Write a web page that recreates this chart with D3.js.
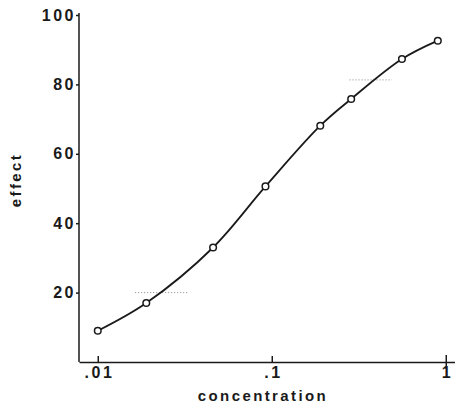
<!DOCTYPE html>
<html>
<head>
<meta charset="utf-8">
<script src="https://cdn.jsdelivr.net/npm/d3@7"></script>
<style>
  body { margin: 0; background: #fff; }
  .axis text { font-family: "Liberation Sans", Arial, sans-serif; font-weight: bold; font-size: 16px; fill: #1a1a1a; letter-spacing: 2.5px; }
  .axis path, .axis line { stroke: #1a1a1a; stroke-width: 1.5px; }
  .axis-title { font-family: "Liberation Sans", Arial, sans-serif; font-weight: bold; font-size: 15px; fill: #1a1a1a; letter-spacing: 2.4px; }
</style>
</head>
<body>
<div id="chart"></div>
<script>
// data
var concentration = [0.01, 0.019, 0.046, 0.092, 0.19, 0.286, 0.56, 0.9];
var effect = [9.0, 17.0, 33.0, 50.6, 68.1, 75.8, 87.3, 92.6];
var xTicks = [0.01, 0.1, 1];
var xTickLabels = [".01", ".1", "1"];
var yTicks = [20, 40, 60, 80, 100];
// faint dotted marks on the scan
var dotLevels = [20, 81.3];
var dotFrom = [0.0164, 0.28];
var dotTo = [0.033, 0.49];

var width = 455, height = 407;
var svg = d3.select("#chart").append("svg")
    .attr("width", width)
    .attr("height", height);

var x = d3.scaleLog()
    .domain([0.0078, 1.13])
    .range([79, 455]);
var y = d3.scaleLinear()
    .domain([0, 100])
    .range([362, 15]);

var data = concentration.map(function(c, i) { return {c: c, e: effect[i]}; });

// x axis
svg.append("g")
    .attr("class", "axis axis--x")
    .attr("transform", "translate(0," + y(0) + ")")
    .call(d3.axisBottom(x)
        .tickValues(xTicks)
        .tickFormat(function(d, i) { return xTickLabels[i]; })
        .tickSizeInner(-6)
        .tickSizeOuter(0)
        .tickPadding(5));

// the "1" tick crosses the axis
svg.select(".axis--x").selectAll(".tick line")
    .attr("y2", function(d) { return d === 1 ? -7 : -6; })
    .attr("y1", function(d) { return d === 1 ? 7 : 0; });
svg.select(".axis--x").selectAll(".tick text")
    .attr("dx", "1.2px");

// y axis
svg.append("g")
    .attr("class", "axis axis--y")
    .attr("transform", "translate(" + x.range()[0] + ",0)")
    .call(d3.axisLeft(y)
        .tickValues(yTicks)
        .tickSizeInner(3)
        .tickSizeOuter(0)
        .tickPadding(2));

svg.select(".axis--y").selectAll(".tick text")
    .attr("dx", "2px");

svg.select(".axis--y .domain")
    .attr("d", "M0," + y(0) + "V" + (y(100) - 2));

// titles
svg.append("text")
    .attr("class", "axis-title")
    .attr("x", 263)
    .attr("y", 401)
    .attr("text-anchor", "middle")
    .text("concentration");

svg.append("text")
    .attr("class", "axis-title")
    .attr("transform", "translate(21,180) rotate(-90)")
    .attr("text-anchor", "middle")
    .text("effect");

// dotted remnants
dotLevels.forEach(function(lv, i) {
  svg.append("line")
      .attr("x1", x(dotFrom[i]))
      .attr("x2", x(dotTo[i]))
      .attr("y1", y(lv))
      .attr("y2", y(lv))
      .attr("stroke", "#8a8a8a")
      .attr("stroke-width", 1)
      .attr("stroke-dasharray", "1,2");
});

// curve
var line = d3.line()
    .x(function(d) { return x(d.c); })
    .y(function(d) { return y(d.e); })
    .curve(d3.curveCatmullRom.alpha(0.5));

svg.append("path")
    .datum(data)
    .attr("fill", "none")
    .attr("stroke", "#1a1a1a")
    .attr("stroke-width", 1.8)
    .attr("d", line);

svg.selectAll(".pt")
    .data(data)
    .enter().append("circle")
    .attr("class", "pt")
    .attr("cx", function(d) { return x(d.c); })
    .attr("cy", function(d) { return y(d.e); })
    .attr("r", 3.3)
    .attr("fill", "#fff")
    .attr("stroke", "#1a1a1a")
    .attr("stroke-width", 1.5);
</script>
</body>
</html>
